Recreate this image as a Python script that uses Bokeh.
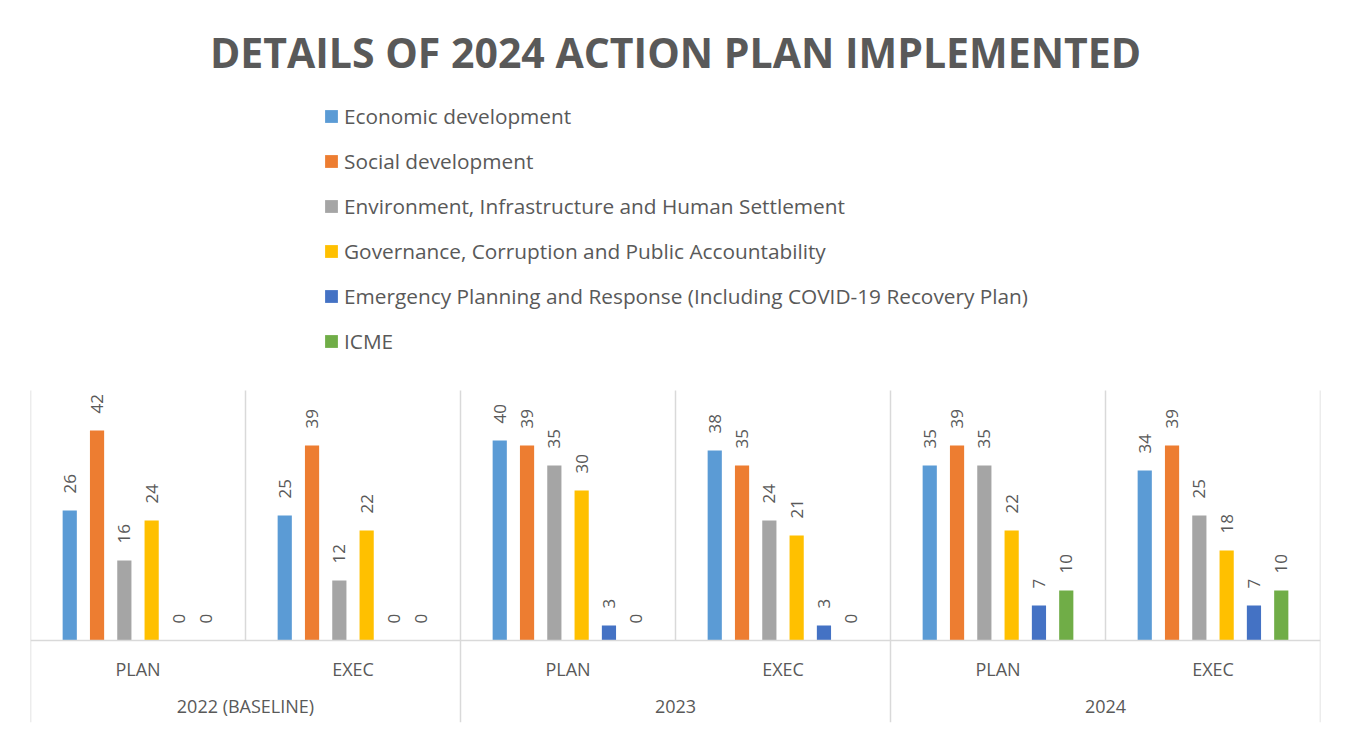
import math
from bokeh.plotting import figure
from bokeh.models import ColumnDataSource, FactorRange, Range1d, Legend, LegendItem
from bokeh.transform import dodge
from bokeh.core.properties import value
from bokeh.embed import file_html
from bokeh.resources import INLINE

title_text = "DETAILS OF 2024 ACTION PLAN IMPLEMENTED"
years = ["2022 (BASELINE)", "2023", "2024"]
phases = ["PLAN", "EXEC"]
series = [
    "Economic development",
    "Social development",
    "Environment, Infrastructure and Human Settlement",
    "Governance, Corruption and Public Accountability",
    "Emergency Planning and Response (Including COVID-19 Recovery Plan)",
    "ICME",
]
colors = ["#5B9BD5", "#ED7D31", "#A5A5A5", "#FFC000", "#4472C4", "#70AD47"]

economic = [26, 25, 40, 38, 35, 34]
social = [42, 39, 39, 35, 39, 39]
environment = [16, 12, 35, 24, 35, 25]
governance = [24, 22, 30, 21, 22, 18]
emergency = [0, 0, 3, 3, 7, 7]
icme = [0, 0, 0, 0, 10, 10]
values_by_series = [economic, social, environment, governance, emergency, icme]

FONT = "Open Sans"
TXT = "#595959"
GRID = "#D9D9D9"

factors = [(y, ph) for y in years for ph in phases]
x_range = FactorRange(*factors, group_padding=0, factor_padding=0, range_padding=0)

px_per_unit = 5.0
frame_h = 632
y_bottom = -16.4
y_range = Range1d(y_bottom, y_bottom + frame_h / px_per_unit)
y_top_grid = 50

p = figure(
    x_range=x_range, y_range=y_range,
    frame_width=1290, frame_height=frame_h,
    min_border_left=30, min_border_right=18, min_border_top=90, min_border_bottom=10,
    output_backend="svg", toolbar_location=None, y_axis_location=None,
    background_fill_color="white", border_fill_color="white",
)
p.outline_line_color = None
p.xgrid.grid_line_color = None
p.ygrid.grid_line_color = None

p.title.text = title_text
p.title.align = "center"
p.title.text_font = FONT
p.title.text_font_size = "41px"
p.title.text_font_style = "bold"
p.title.text_color = TXT
p.title.standoff = 22

# separators between categories
n = len(factors)
sep_x = list(range(0, n + 1))
sep_y0 = [y_bottom if i % 2 == 0 else 0 for i in sep_x]
p.segment(x0=sep_x, x1=sep_x, y0=sep_y0, y1=[y_top_grid] * len(sep_x),
          line_color=GRID, line_width=1.5)

spacing = 0.127
bar_w = 0.066
items = []
for i, (name, vals, col) in enumerate(zip(series, values_by_series, colors)):
    src = ColumnDataSource(dict(x=factors, v=vals, lab=[str(v) for v in vals]))
    off = (i - 2.5) * spacing
    r = p.vbar(x=dodge("x", off, range=p.x_range), top="v", bottom=0, width=bar_w,
               source=src, fill_color=col, line_color=None)
    p.text(x=dodge("x", off, range=p.x_range), y="v", text="lab", source=src,
           angle=math.pi / 2, text_align="left", text_baseline="middle",
           y_offset=-17, text_font=value(FONT), text_font_size="17px", text_color=TXT)
    items.append(LegendItem(label=name, renderers=[r]))

legend = Legend(items=items, location=(293, 367), orientation="vertical",
                glyph_width=16, glyph_height=16, label_height=29, spacing=16,
                label_standoff=5, padding=0, margin=0,
                label_text_font=FONT, label_text_font_size="20.8px", label_text_color=TXT,
                border_line_color=None, background_fill_alpha=0)
p.add_layout(legend, "center")

ax = p.xaxis[0]
ax.fixed_location = 0
ax.axis_line_color = GRID
ax.axis_line_width = 1.5
ax.major_tick_line_color = None
ax.minor_tick_line_color = None
ax.major_label_standoff = 10
ax.major_label_text_font = FONT
ax.major_label_text_font_size = "18px"
ax.major_label_text_color = TXT
ax.group_text_font = FONT
ax.group_text_font_size = "18px"
ax.group_text_font_style = "normal"
ax.group_text_color = TXT
ax.separator_line_color = None

open("out.html", "w").write(file_html(p, INLINE))
